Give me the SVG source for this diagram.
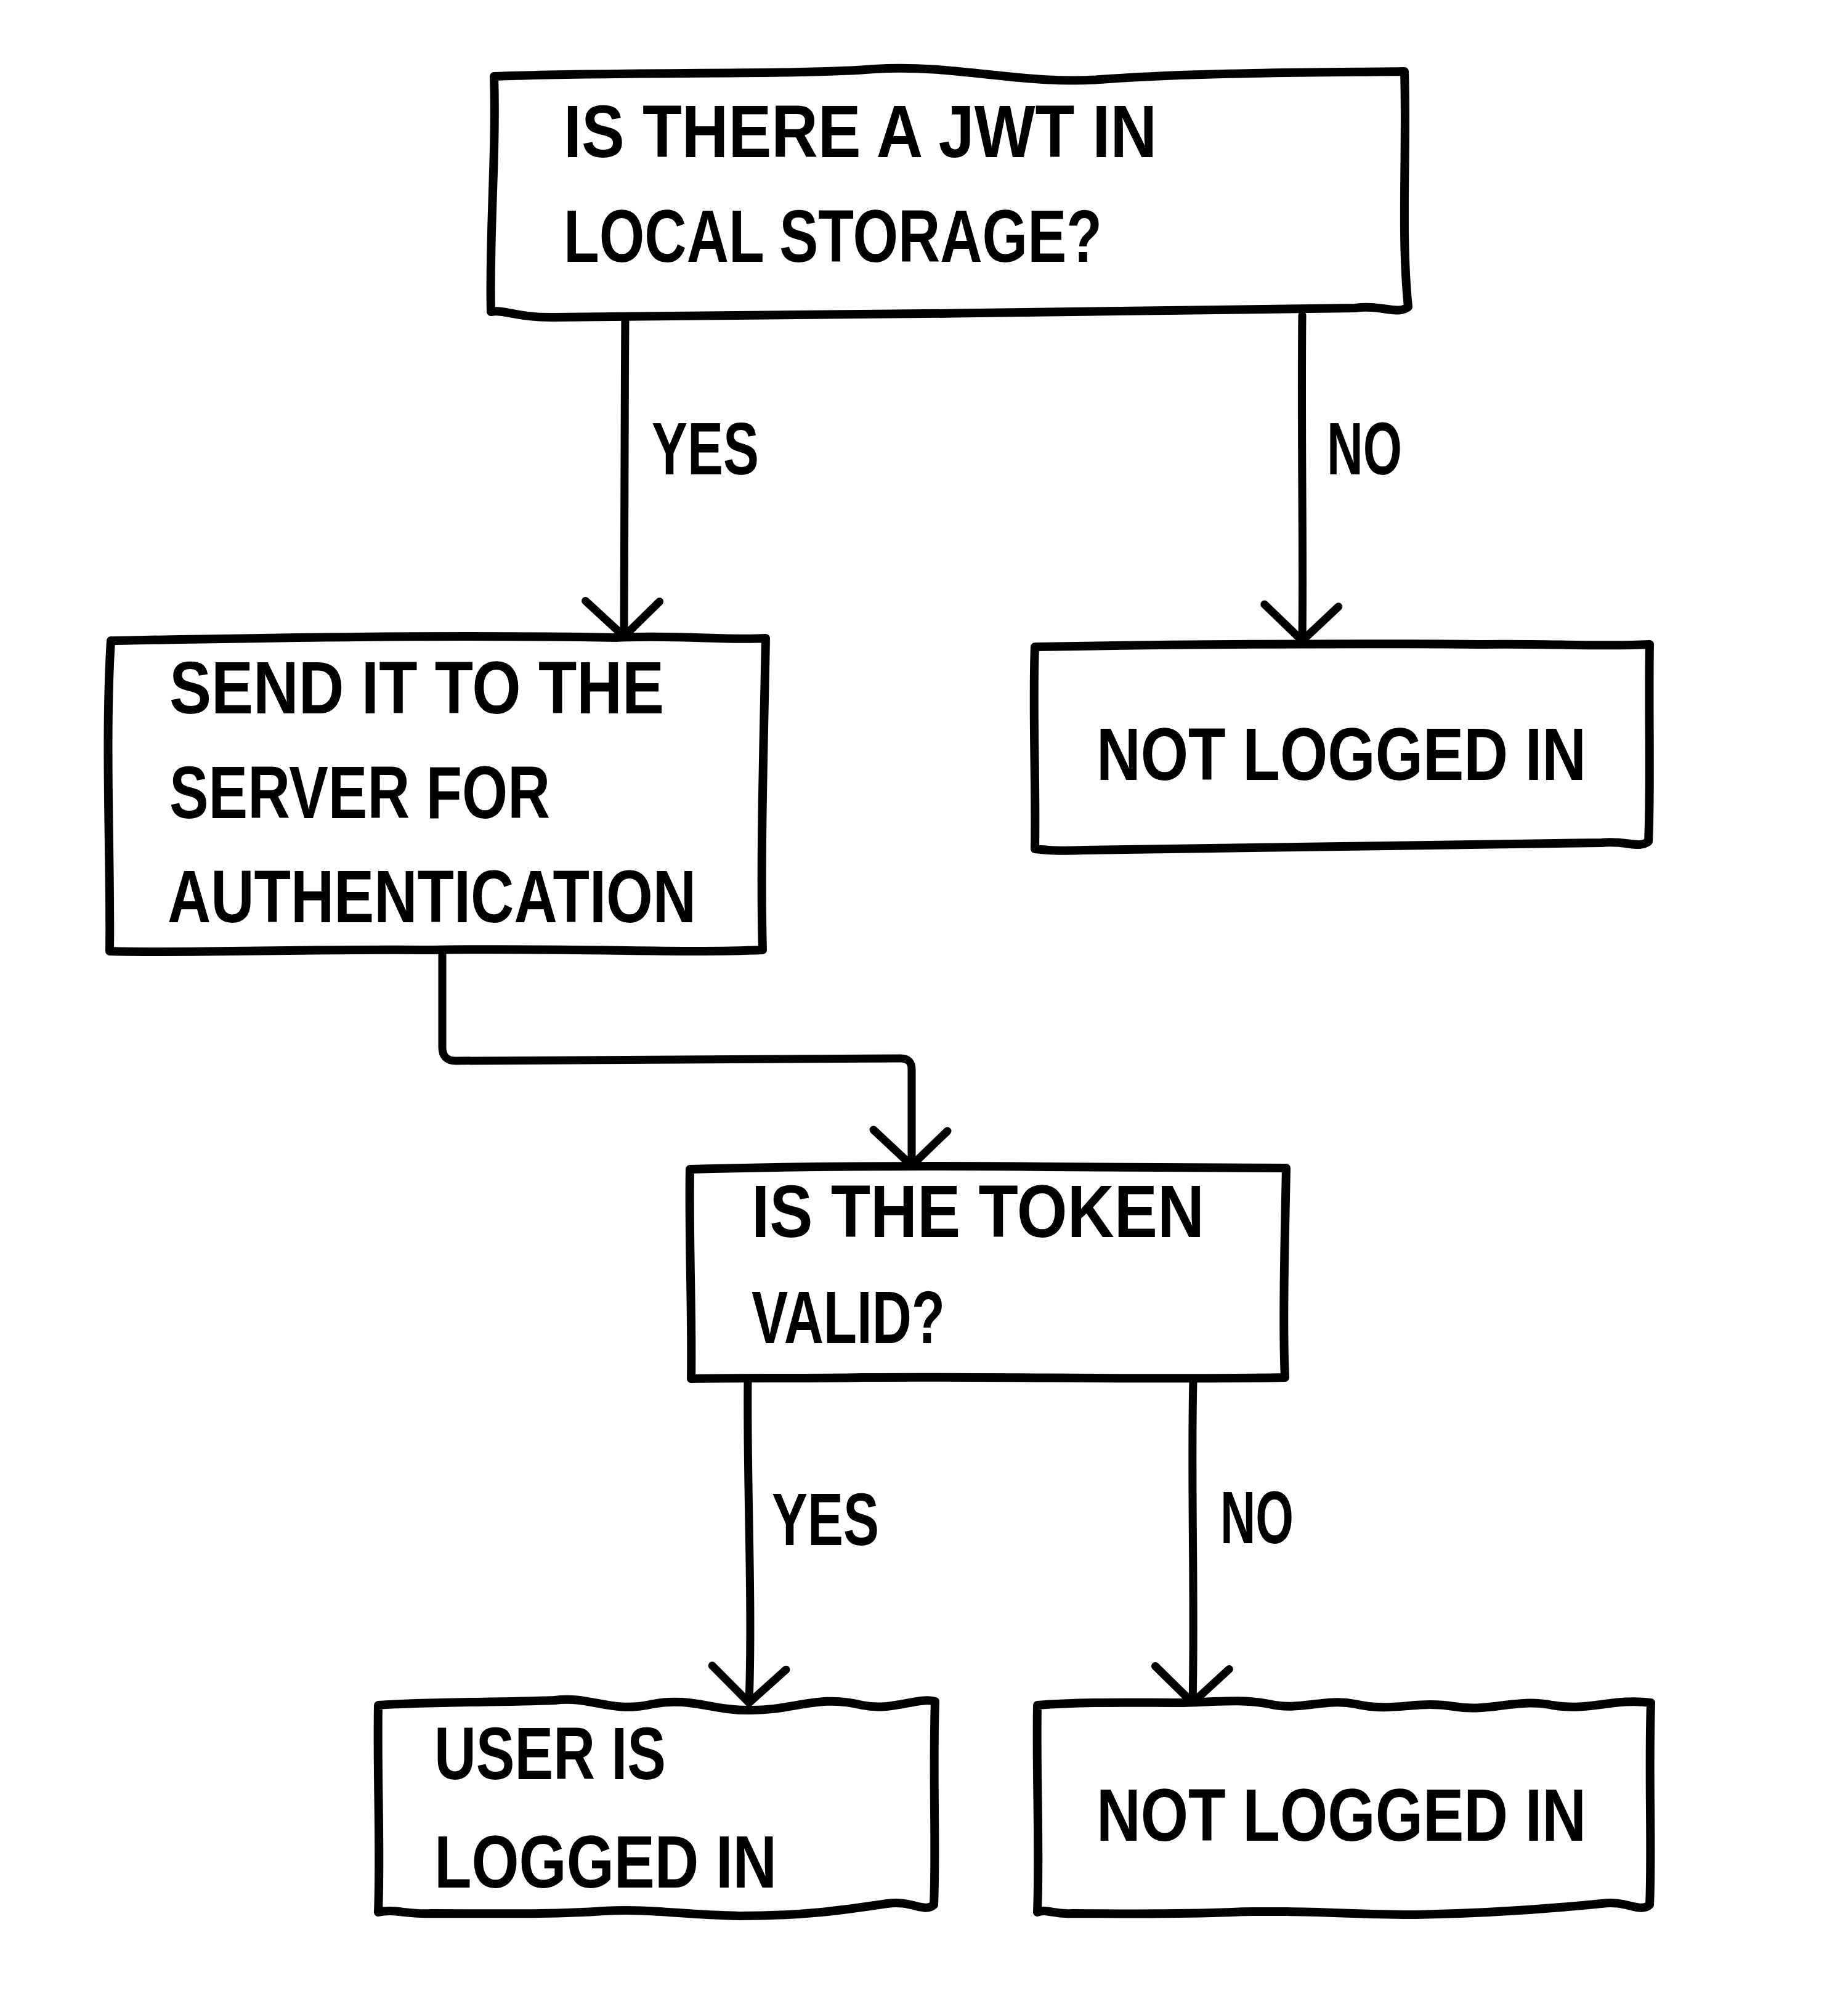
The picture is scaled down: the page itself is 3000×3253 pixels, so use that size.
<svg xmlns="http://www.w3.org/2000/svg" width="3000" height="3253" viewBox="0 0 3000 3253">
<style>
.box{fill:#fff;stroke:#000;stroke-width:14;stroke-linejoin:round;stroke-linecap:round}
.edge{fill:none;stroke:#000;stroke-width:13;stroke-linecap:round;stroke-linejoin:round}
text{font-family:"Liberation Sans","DejaVu Sans",sans-serif;font-weight:bold;font-size:120px;fill:#000}
</style>
<defs>
<marker id="arr" viewBox="-70 -70 140 140" markerUnits="userSpaceOnUse" markerWidth="140" markerHeight="140" refX="0" refY="0" orient="auto" overflow="visible">
<path d="M -56 -58 L 0 0 L -58 62" fill="none" stroke="#000" stroke-width="13" stroke-linecap="round" stroke-linejoin="round"/>
</marker>
</defs>
<rect width="3000" height="3253" fill="#fff"/>
<g id="connectors">
<path class="edge" d="M 1015 512 C 1014 700, 1012 900, 1013 1033" marker-end="url(#arr)"/>
<path class="edge" d="M 2114 512 C 2112 700, 2116 900, 2114 1040" marker-end="url(#arr)"/>
<path class="edge" d="M 718 1550 L 718 1700 Q 718 1722 740 1722 L 1462 1718 Q 1480 1718 1480 1736 L 1480 1892" marker-end="url(#arr)"/>
<path class="edge" d="M 1214 2242 C 1212 2400, 1222 2600, 1216 2764" marker-end="url(#arr)"/>
<path class="edge" d="M 1937 2242 C 1933 2400, 1940 2600, 1936 2764" marker-end="url(#arr)"/>
<text x="1058" y="770" textLength="174" lengthAdjust="spacingAndGlyphs">YES</text>
<text x="2154" y="770" textLength="122" lengthAdjust="spacingAndGlyphs">NO</text>
<text x="1253" y="2508" textLength="174" lengthAdjust="spacingAndGlyphs">YES</text>
<text x="1981" y="2505" textLength="119" lengthAdjust="spacingAndGlyphs">NO</text>
</g>
<g id="n1">
<path class="box" d="M 802 124 C 1000 116, 1300 122, 1420 112 C 1560 104, 1660 140, 1800 128 C 1950 118, 2100 118, 2280 116 C 2284 250, 2274 380, 2286 498 C 2270 512, 2240 494, 2200 500 C 1800 506, 1300 512, 900 515 C 840 516, 820 502, 797 506 C 794 380, 806 250, 802 124 Z"/>
<text x="915" y="255" textLength="963" lengthAdjust="spacingAndGlyphs">IS THERE A JWT IN</text>
<text x="915" y="425" textLength="874" lengthAdjust="spacingAndGlyphs">LOCAL STORAGE?</text>
</g>
<g id="n2">
<path class="box" d="M 180 1040 C 400 1036, 700 1030, 1000 1035 C 1100 1030, 1180 1040, 1243 1036 C 1240 1200, 1234 1400, 1238 1542 C 1100 1548, 900 1538, 700 1542 C 500 1540, 300 1548, 178 1544 C 180 1400, 170 1200, 180 1040 Z"/>
<text x="275" y="1158" textLength="803" lengthAdjust="spacingAndGlyphs">SEND IT TO THE</text>
<text x="275" y="1328" textLength="618" lengthAdjust="spacingAndGlyphs">SERVER FOR</text>
<text x="272" y="1497" textLength="858" lengthAdjust="spacingAndGlyphs">AUTHENTICATION</text>
</g>
<g id="n3">
<path class="box" d="M 1680 1050 C 1900 1046, 2200 1044, 2400 1046 C 2500 1044, 2600 1050, 2678 1046 C 2676 1150, 2680 1280, 2676 1366 C 2660 1378, 2640 1364, 2600 1368 C 2300 1372, 2000 1376, 1760 1380 C 1720 1382, 1700 1380, 1680 1378 C 1682 1270, 1676 1150, 1680 1050 Z"/>
<text x="1780" y="1266" textLength="795" lengthAdjust="spacingAndGlyphs">NOT LOGGED IN</text>
</g>
<g id="n4">
<path class="box" d="M 1120 1898 C 1300 1893, 1500 1892, 1700 1894 C 1900 1894, 2000 1896, 2088 1896 C 2086 2000, 2082 2150, 2086 2236 C 1900 2240, 1600 2234, 1400 2236 C 1300 2238, 1200 2236, 1122 2238 C 1124 2150, 1118 2000, 1120 1898 Z"/>
<text x="1220" y="2008" textLength="735" lengthAdjust="spacingAndGlyphs">IS THE TOKEN</text>
<text x="1220" y="2180" textLength="314" lengthAdjust="spacingAndGlyphs">VALID?</text>
</g>
<g id="n5">
<path class="box" d="M 614 2768 C 700 2762, 800 2764, 900 2760 C 960 2752, 990 2782, 1060 2766 C 1120 2754, 1160 2778, 1220 2776 C 1290 2776, 1330 2750, 1400 2768 C 1450 2778, 1490 2754, 1518 2762 C 1514 2880, 1520 3000, 1516 3092 C 1500 3106, 1480 3084, 1440 3090 C 1360 3102, 1300 3110, 1200 3110 C 1100 3108, 1060 3098, 980 3102 C 900 3108, 800 3106, 700 3106 C 660 3108, 640 3098, 614 3104 C 618 3000, 612 2880, 614 2768 Z"/>
<text x="705" y="2888" textLength="376" lengthAdjust="spacingAndGlyphs">USER IS</text>
<text x="705" y="3064" textLength="556" lengthAdjust="spacingAndGlyphs">LOGGED IN</text>
</g>
<g id="n6">
<path class="box" d="M 1684 2768 C 1760 2762, 1840 2764, 1920 2764 C 1980 2762, 2020 2758, 2060 2766 C 2110 2778, 2150 2756, 2200 2766 C 2260 2780, 2300 2760, 2360 2770 C 2420 2780, 2460 2756, 2520 2768 C 2580 2778, 2620 2756, 2680 2764 C 2676 2880, 2682 3000, 2678 3092 C 2662 3106, 2640 3084, 2600 3090 C 2500 3100, 2400 3106, 2300 3108 C 2200 3108, 2100 3100, 2000 3104 C 1900 3108, 1800 3106, 1740 3106 C 1710 3108, 1700 3098, 1684 3104 C 1688 3000, 1682 2880, 1684 2768 Z"/>
<text x="1780" y="2988" textLength="795" lengthAdjust="spacingAndGlyphs">NOT LOGGED IN</text>
</g>
</svg>
